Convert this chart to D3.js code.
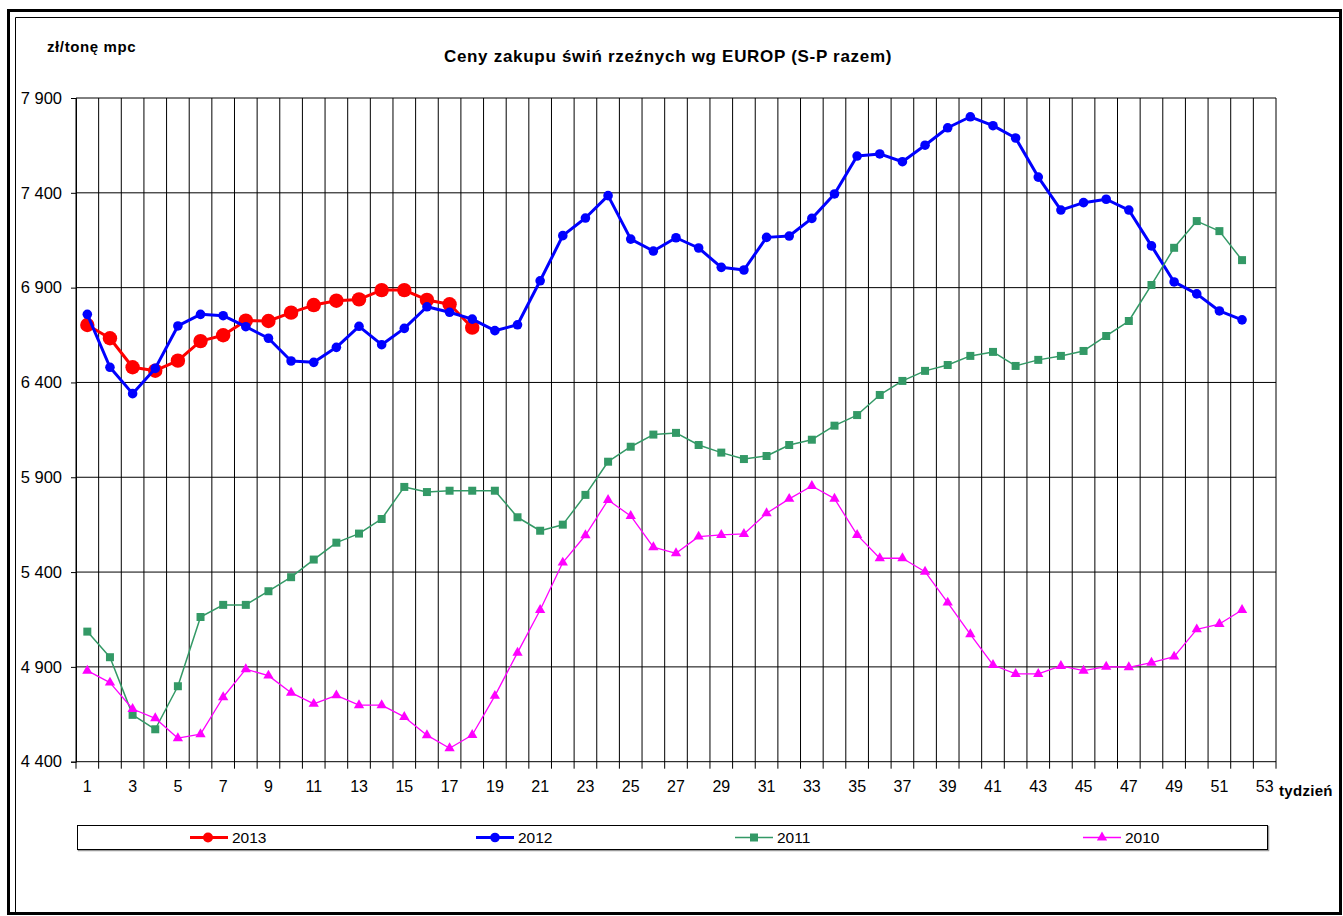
<!DOCTYPE html>
<html>
<head>
<meta charset="utf-8">
<script src="https://cdn.jsdelivr.net/npm/d3@7/dist/d3.min.js"></script>
<style>
  body { margin: 0; background: #fff; }
  svg { display: block; font-family: 'Liberation Sans', Arial, sans-serif; }
</style>
</head>
<body>
<div id="chart"></div>
<script>
// weeks 1..53 (tydzień)
const weeks = [1, 2, 3, 4, 5, 6, 7, 8, 9, 10, 11, 12, 13, 14, 15, 16, 17, 18, 19, 20, 21, 22, 23, 24, 25, 26, 27,
  28, 29, 30, 31, 32, 33, 34, 35, 36, 37, 38, 39, 40, 41, 42, 43, 44, 45, 46, 47, 48, 49, 50, 51, 52, 53]
const weekLabels = [1, 3, 5, 7, 9, 11, 13, 15, 17, 19, 21, 23, 25, 27, 29, 31, 33, 35, 37, 39, 41, 43, 45, 47, 49, 51, 53]
const yTicks = [4400, 4900, 5400, 5900, 6400, 6900, 7400, 7900]

// prices zł/tonę mpc, one value per week
const y2013 = [6703, 6633, 6480, 6462, 6515, 6618, 6649, 6726, 6724, 6768, 6808, 6831, 6838, 6887, 6887, 6835, 6812, 6689]
const y2012 = [6759, 6480, 6341, 6474, 6698, 6759, 6752, 6694, 6633, 6513, 6506, 6585, 6696, 6599, 6685, 6799, 6770, 6734,
  6673, 6704, 6936, 7174, 7267, 7385, 7156, 7093, 7163, 7109, 7007, 6993, 7165, 7172, 7265, 7394, 7594, 7605, 7564, 7651,
  7743, 7801, 7754, 7689, 7483, 7309, 7348, 7366, 7309, 7120, 6930, 6867, 6777, 6730]
const y2011 = [5086, 4951, 4647, 4571, 4798, 5163, 5227, 5227, 5299, 5373, 5466, 5555, 5603, 5680, 5849, 5822, 5829, 5829,
  5829, 5689, 5618, 5650, 5807, 5982, 6061, 6125, 6134, 6070, 6030, 5996, 6012, 6070, 6098, 6172, 6228, 6334, 6408, 6461,
  6492, 6540, 6561, 6487, 6519, 6540, 6566, 6645, 6724, 6914, 7110, 7251, 7198, 7045]
const y2010 = [4880, 4817, 4678, 4629, 4524, 4545, 4740, 4888, 4854, 4764, 4705, 4750, 4698, 4698, 4636, 4540, 4471, 4541,
  4747, 4975, 5200, 5450, 5594, 5780, 5696, 5531, 5499, 5587, 5596, 5601, 5710, 5786, 5854, 5787, 5596, 5473, 5473, 5402,
  5239, 5072, 4910, 4863, 4863, 4905, 4880, 4901, 4898, 4922, 4954, 5098, 5126, 5200]

const seriesNames = ['2013', '2012', '2011', '2010']
const seriesValues = [y2013, y2012, y2011, y2010]

const styles = {
  2013: { color: '#ff0000', width: 3, marker: 'circle', size: 7.2 },
  2012: { color: '#0000ff', width: 3, marker: 'circle', size: 4.8 },
  2011: { color: '#339966', width: 1.5, marker: 'square', size: 64 },
  2010: { color: '#ff00ff', width: 1.3, marker: 'triangle', size: 46 }
}

const W = 1343
const H = 916
const plot = { left: 76, right: 1276, top: 98, bottom: 761.7 }

const svg = d3.select('#chart').append('svg')
  .attr('width', W)
  .attr('height', H)

// frames
svg.append('rect').attr('x', 8.5).attr('y', 10.5).attr('width', 1332).attr('height', 903)
  .attr('fill', 'none').attr('stroke', '#000').attr('stroke-width', 3)
svg.append('path').attr('d', 'M15.5,914 V17.5 H1342')
  .attr('fill', 'none').attr('stroke', '#000').attr('stroke-width', 1)

const xScale = d3.scaleBand()
  .domain(weeks)
  .range([plot.left, plot.right])
  .padding(0)
const cx = (w) => xScale(w) + xScale.bandwidth() / 2

const yScale = d3.scaleLinear()
  .domain([4400, 7900])
  .range([plot.bottom, plot.top])

const fmt = d3.formatLocale({ thousands: ' ', grouping: [3], decimal: ',', currency: ['', ''] }).format(',')

// vertical grid on category boundaries, with tick marks below the axis
const bounds = weeks.map(w => xScale(w)).concat([plot.right])
svg.append('g')
  .selectAll('line')
  .data(bounds)
  .enter().append('line')
  .attr('x1', d => d).attr('x2', d => d)
  .attr('y1', plot.top).attr('y2', plot.bottom + 7)
  .attr('stroke', '#000').attr('stroke-width', 1)

// horizontal grid
svg.append('g')
  .selectAll('line')
  .data(yTicks)
  .enter().append('line')
  .attr('x1', plot.left).attr('x2', plot.right)
  .attr('y1', d => yScale(d)).attr('y2', d => yScale(d))
  .attr('stroke', '#000').attr('stroke-width', 1)

// y axis
const yAxis = svg.append('g')
  .attr('transform', `translate(${plot.left},0)`)
  .call(d3.axisLeft(yScale).tickValues(yTicks).tickSize(5).tickPadding(9).tickFormat(fmt))
yAxis.select('.domain').attr('stroke', '#000')
yAxis.selectAll('text').attr('font-size', 16.5).attr('fill', '#000').attr('font-family', 'Liberation Sans, Arial, sans-serif')

// x axis labels
const xAxis = svg.append('g')
  .attr('transform', `translate(0,${plot.bottom})`)
  .call(d3.axisBottom(xScale).tickValues(weekLabels).tickSize(0).tickPadding(19))
xAxis.select('.domain').remove()
xAxis.selectAll('text').attr('font-size', 16).attr('fill', '#000').attr('font-family', 'Liberation Sans, Arial, sans-serif')

svg.append('text').attr('x', 1279).attr('y', 796)
  .attr('font-size', 15).attr('font-weight', 'bold').attr('letter-spacing', 0.3).text('tydzień')

svg.append('text').attr('x', 47).attr('y', 52)
  .attr('font-size', 15).attr('font-weight', 'bold').attr('letter-spacing', 0.6).text('zł/tonę mpc')

svg.append('text').attr('x', 668).attr('y', 62).attr('text-anchor', 'middle')
  .attr('font-size', 17).attr('font-weight', 'bold').attr('letter-spacing', 0.7)
  .text('Ceny zakupu świń rzeźnych wg EUROP (S-P razem)')

const drawMarker = (g, name, x, y) => {
  const s = styles[name]
  if (s.marker === 'circle') {
    g.append('circle').attr('cx', x).attr('cy', y).attr('r', s.size).attr('fill', s.color)
  } else {
    const type = s.marker === 'square' ? d3.symbolSquare : d3.symbolTriangle
    g.append('path')
      .attr('d', d3.symbol().type(type).size(s.size)())
      .attr('transform', `translate(${x},${y})`)
      .attr('fill', s.color)
  }
}

const line = d3.line()
  .x((d, i) => cx(weeks[i]))
  .y(d => yScale(d))

seriesNames.forEach((name, k) => {
  const vals = seriesValues[k]
  const s = styles[name]
  const g = svg.append('g')
  g.append('path')
    .datum(vals)
    .attr('d', line)
    .attr('fill', 'none')
    .attr('stroke', s.color)
    .attr('stroke-width', s.width)
    .attr('stroke-linejoin', 'round')
  vals.forEach((v, i) => drawMarker(g, name, cx(weeks[i]), yScale(v)))
})

// legend
svg.append('rect').attr('x', 78.5).attr('y', 826.5).attr('width', 1190).attr('height', 24)
  .attr('fill', 'none').attr('stroke', '#999').attr('stroke-width', 1.5)
svg.append('rect').attr('x', 77.5).attr('y', 825.5).attr('width', 1190).attr('height', 24)
  .attr('fill', '#fff').attr('stroke', '#000').attr('stroke-width', 1)

const legendX = [190, 476, 735, 1083]
seriesNames.forEach((name, k) => {
  const s = styles[name]
  const g = svg.append('g')
  const x0 = legendX[k]
  g.append('line').attr('x1', x0).attr('x2', x0 + 38).attr('y1', 837.5).attr('y2', 837.5)
    .attr('stroke', s.color).attr('stroke-width', s.width)
  if (name === '2013') {
    g.append('circle').attr('cx', x0 + 18).attr('cy', 837.5).attr('r', 5).attr('fill', s.color)
  } else {
    drawMarker(g, name, x0 + 19, 837.5)
  }
  g.append('text').attr('x', x0 + 42).attr('y', 843).attr('font-size', 15.5).text(name)
})
</script>
</body>
</html>
